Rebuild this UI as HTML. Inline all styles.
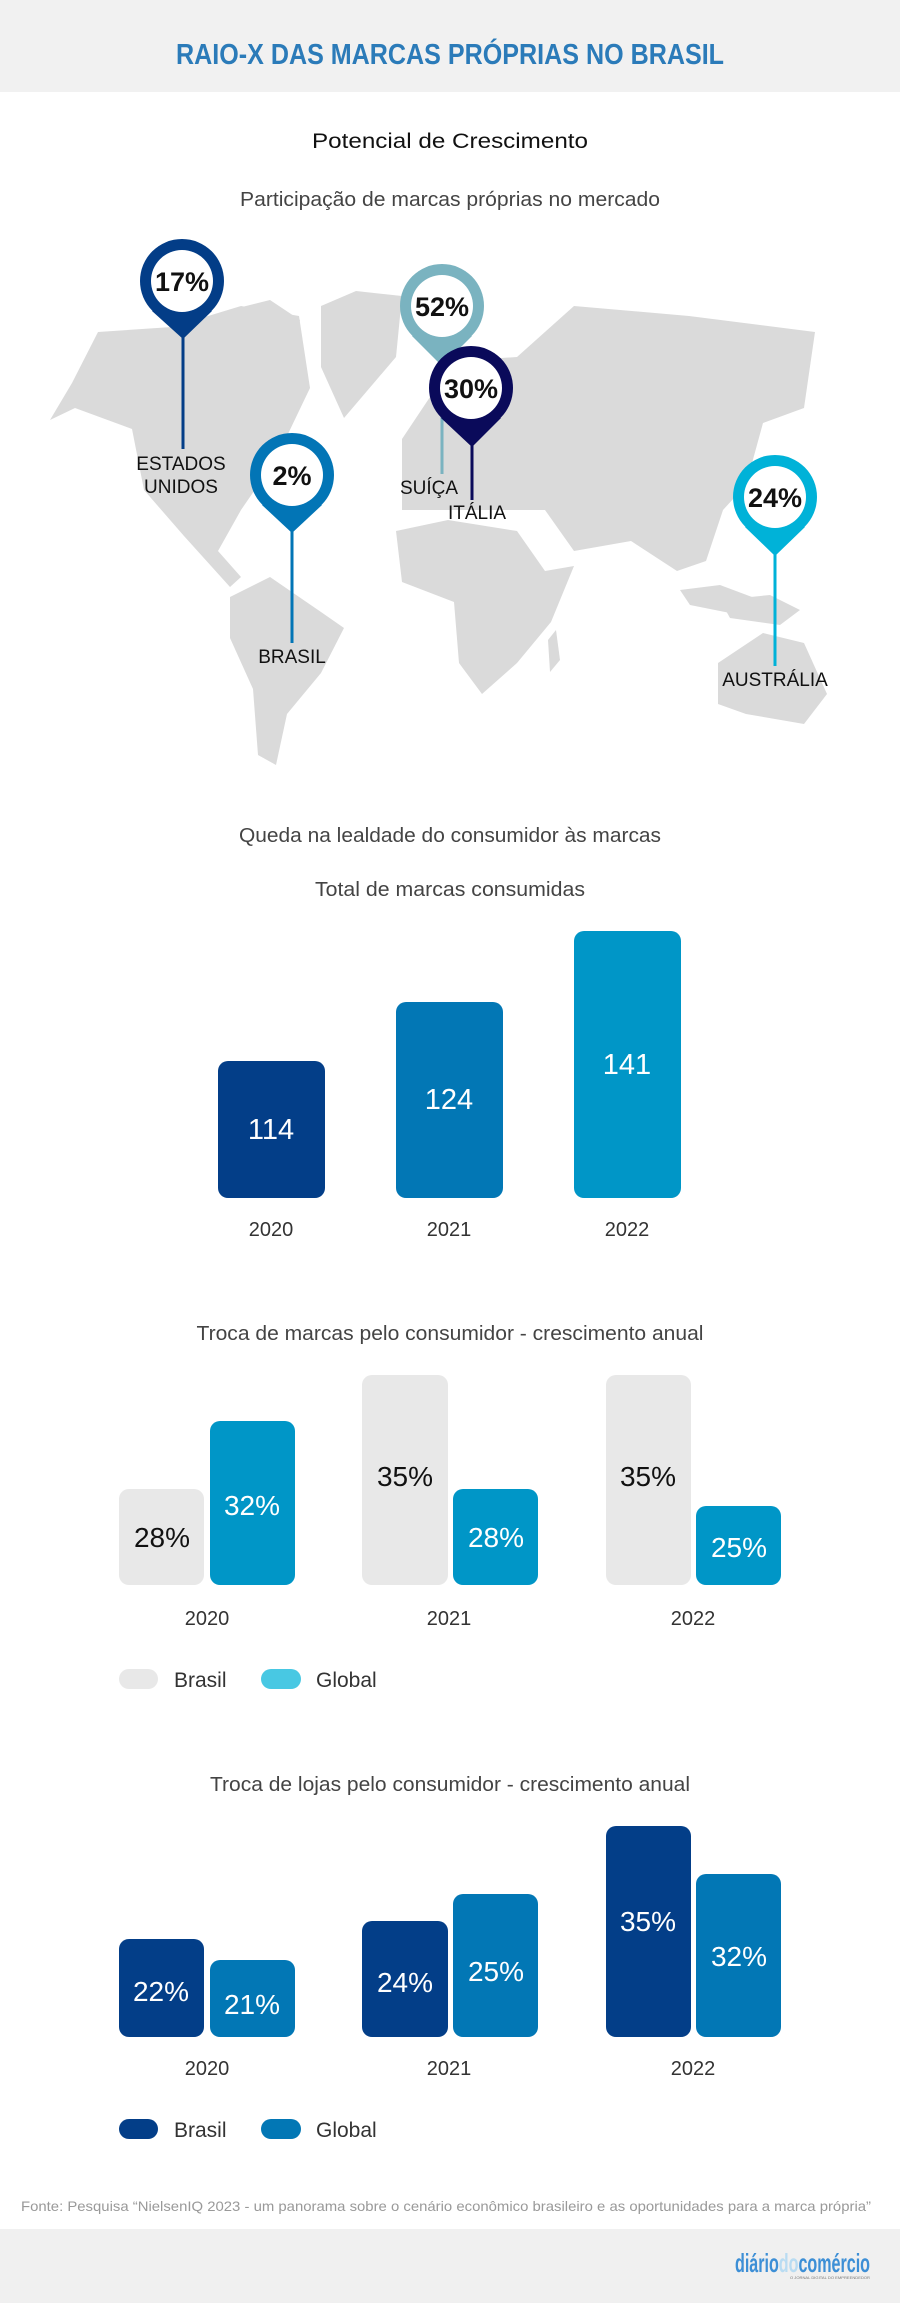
<!DOCTYPE html>
<html><head><meta charset="utf-8"><style>
html,body{margin:0;padding:0;background:#fff;}
svg{display:block;}
text{font-family:"Liberation Sans",sans-serif;}
</style></head><body>
<svg width="900" height="2303" viewBox="0 0 900 2303" xmlns="http://www.w3.org/2000/svg">
<rect x="0" y="0" width="900" height="92" fill="#f1f1f1"/>
<text x="450" y="64" text-anchor="middle" font-size="29" font-weight="bold" fill="#2b7bb9" textLength="548" lengthAdjust="spacingAndGlyphs">RAIO-X DAS MARCAS PRÓPRIAS NO BRASIL</text>
<text x="450" y="148" text-anchor="middle" font-size="21" fill="#111" textLength="276" lengthAdjust="spacingAndGlyphs">Potencial de Crescimento</text>
<text x="450" y="206" text-anchor="middle" font-size="20" fill="#444" textLength="420" lengthAdjust="spacingAndGlyphs">Participação de marcas próprias no mercado</text>

<g fill="#dadada">
<polygon points="50,420 72,383 98,332 172,327 241,306 299,316 310,388 276,459 241,510 218,551 241,577 230,587 184,536 144,490 132,429 75,408"/>
<polygon points="230,310 270,300 300,320 290,360 250,370 220,345"/>
<polygon points="321,306 356,291 402,296 396,357 344,418 321,367"/>
<polygon points="230,597 270,577 321,612 344,628 321,673 287,714 276,765 258,755 253,689 230,638"/>
<polygon points="402,439 436,388 470,360 517,357 574,306 689,316 815,332 804,408 763,423 746,485 723,510 706,561 677,571 631,541 574,551 545,510 488,510 402,510"/>
<polygon points="396,531 448,520 517,531 545,571 574,566 551,622 517,663 482,694 459,663 454,602 402,582"/>
<polygon points="718,663 763,633 804,643 827,694 804,724 746,714 718,704"/>
<polygon points="680,590 720,585 760,600 740,615 690,605"/>
<polygon points="720,600 770,595 800,610 780,625 730,618"/>
<polygon points="548,640 556,630 560,660 550,672"/>
</g>

<g>
<line x1="183" y1="330" x2="183" y2="449" stroke="#033d87" stroke-width="3"/>
<circle cx="182" cy="281" r="42" fill="#033d87"/><polygon points="152,311 212,311 183,339" fill="#033d87"/>
<circle cx="182" cy="281" r="31" fill="#fff"/>
<text x="182" y="291" text-anchor="middle" font-size="27" font-weight="bold" fill="#111">17%</text>
<text x="181" y="470" text-anchor="middle" font-size="19" fill="#111">ESTADOS</text>
<text x="181" y="493" text-anchor="middle" font-size="19" fill="#111">UNIDOS</text>

<line x1="292" y1="525" x2="292" y2="643" stroke="#0275b6" stroke-width="3"/>
<circle cx="292" cy="475" r="42" fill="#0275b6"/><polygon points="262,505 322,505 292,533" fill="#0275b6"/>
<circle cx="292" cy="475" r="31" fill="#fff"/>
<text x="292" y="485" text-anchor="middle" font-size="27" font-weight="bold" fill="#111">2%</text>
<text x="292" y="663" text-anchor="middle" font-size="19" fill="#111">BRASIL</text>

<line x1="442" y1="360" x2="442" y2="474" stroke="#7ab3c0" stroke-width="3"/>
<circle cx="442" cy="306" r="42" fill="#7ab3c0"/><polygon points="412,336 472,336 442,366" fill="#7ab3c0"/>
<circle cx="442" cy="306" r="31" fill="#fff"/>
<text x="442" y="316" text-anchor="middle" font-size="27" font-weight="bold" fill="#111">52%</text>
<text x="429" y="494" text-anchor="middle" font-size="19" fill="#111">SUÍÇA</text>

<line x1="472" y1="440" x2="472" y2="500" stroke="#0a0a5a" stroke-width="3"/>
<circle cx="471" cy="388" r="42" fill="#0a0a5a"/><polygon points="441,418 501,418 472,447" fill="#0a0a5a"/>
<circle cx="471" cy="388" r="31" fill="#fff"/>
<text x="471" y="398" text-anchor="middle" font-size="27" font-weight="bold" fill="#111">30%</text>
<text x="477" y="519" text-anchor="middle" font-size="19" fill="#111">ITÁLIA</text>

<line x1="775" y1="548" x2="775" y2="666" stroke="#00b2d8" stroke-width="3"/>
<circle cx="775" cy="497" r="42" fill="#00b2d8"/><polygon points="745,527 805,527 775,556" fill="#00b2d8"/>
<circle cx="775" cy="497" r="31" fill="#fff"/>
<text x="775" y="507" text-anchor="middle" font-size="27" font-weight="bold" fill="#111">24%</text>
<text x="775" y="686" text-anchor="middle" font-size="19" fill="#111">AUSTRÁLIA</text>
</g>

<text x="450" y="842" text-anchor="middle" font-size="20" fill="#444" textLength="422" lengthAdjust="spacingAndGlyphs">Queda na lealdade do consumidor às marcas</text>
<text x="450" y="896" text-anchor="middle" font-size="20" fill="#444" textLength="270" lengthAdjust="spacingAndGlyphs">Total de marcas consumidas</text>

<rect x="218" y="1061" width="107" height="137" rx="10" fill="#033e88"/>
<rect x="396" y="1002" width="107" height="196" rx="10" fill="#0277b5"/>
<rect x="574" y="931" width="107" height="267" rx="10" fill="#0096c7"/>
<text x="271" y="1139" text-anchor="middle" font-size="29" fill="#fff">114</text>
<text x="449" y="1109" text-anchor="middle" font-size="29" fill="#fff">124</text>
<text x="627" y="1074" text-anchor="middle" font-size="29" fill="#fff">141</text>
<g font-size="20" fill="#333" text-anchor="middle">
<text x="271" y="1236">2020</text><text x="449" y="1236">2021</text><text x="627" y="1236">2022</text>
</g>

<text x="450" y="1340" text-anchor="middle" font-size="20" fill="#444" textLength="507" lengthAdjust="spacingAndGlyphs">Troca de marcas pelo consumidor - crescimento anual</text>
<rect x="119" y="1489" width="85" height="96" rx="10" fill="#e8e8e8"/>
<rect x="210" y="1421" width="85" height="164" rx="10" fill="#0096c7"/>
<rect x="362" y="1375" width="86" height="210" rx="10" fill="#e8e8e8"/>
<rect x="453" y="1489" width="85" height="96" rx="10" fill="#0096c7"/>
<rect x="606" y="1375" width="85" height="210" rx="10" fill="#e8e8e8"/>
<rect x="696" y="1506" width="85" height="79" rx="10" fill="#0096c7"/>
<g font-size="28" text-anchor="middle">
<text x="162" y="1547" fill="#111">28%</text>
<text x="252" y="1515" fill="#fff">32%</text>
<text x="405" y="1486" fill="#111">35%</text>
<text x="496" y="1547" fill="#fff">28%</text>
<text x="648" y="1486" fill="#111">35%</text>
<text x="739" y="1557" fill="#fff">25%</text>
</g>
<g font-size="20" fill="#333" text-anchor="middle">
<text x="207" y="1625">2020</text><text x="449" y="1625">2021</text><text x="693" y="1625">2022</text>
</g>
<rect x="119" y="1669" width="39" height="20" rx="10" fill="#e8e8e8"/>
<text x="174" y="1687" font-size="21" fill="#333">Brasil</text>
<rect x="261" y="1669" width="40" height="20" rx="10" fill="#48c8e3"/>
<text x="316" y="1687" font-size="21" fill="#333">Global</text>

<text x="450" y="1791" text-anchor="middle" font-size="20" fill="#444" textLength="480" lengthAdjust="spacingAndGlyphs">Troca de lojas pelo consumidor - crescimento anual</text>
<rect x="119" y="1939" width="85" height="98" rx="10" fill="#033e88"/>
<rect x="210" y="1960" width="85" height="77" rx="10" fill="#0277b5"/>
<rect x="362" y="1921" width="86" height="116" rx="10" fill="#033e88"/>
<rect x="453" y="1894" width="85" height="143" rx="10" fill="#0277b5"/>
<rect x="606" y="1826" width="85" height="211" rx="10" fill="#033e88"/>
<rect x="696" y="1874" width="85" height="163" rx="10" fill="#0277b5"/>
<g font-size="28" text-anchor="middle" fill="#fff">
<text x="161" y="2001">22%</text>
<text x="252" y="2014">21%</text>
<text x="405" y="1992">24%</text>
<text x="496" y="1981">25%</text>
<text x="648" y="1931">35%</text>
<text x="739" y="1966">32%</text>
</g>
<g font-size="20" fill="#333" text-anchor="middle">
<text x="207" y="2075">2020</text><text x="449" y="2075">2021</text><text x="693" y="2075">2022</text>
</g>
<rect x="119" y="2119" width="39" height="20" rx="10" fill="#033e88"/>
<text x="174" y="2137" font-size="21" fill="#333">Brasil</text>
<rect x="261" y="2119" width="40" height="20" rx="10" fill="#0277b5"/>
<text x="316" y="2137" font-size="21" fill="#333">Global</text>

<text x="21" y="2211" font-size="14" fill="#999" textLength="850" lengthAdjust="spacingAndGlyphs">Fonte: Pesquisa “NielsenIQ 2023 - um panorama sobre o cenário econômico brasileiro e as oportunidades para a marca própria”</text>

<rect x="0" y="2229" width="900" height="74" fill="#f0f0f0"/>
<text x="735" y="2272" font-size="26" font-weight="bold" textLength="135" lengthAdjust="spacingAndGlyphs"><tspan fill="#3d8fd6">diário</tspan><tspan fill="#b9dcf2">do</tspan><tspan fill="#3d8fd6">comércio</tspan></text>
<text x="790" y="2279" font-size="4" fill="#777" textLength="80" lengthAdjust="spacingAndGlyphs">O JORNAL DIGITAL DO EMPREENDEDOR</text>
</svg>
</body></html>
